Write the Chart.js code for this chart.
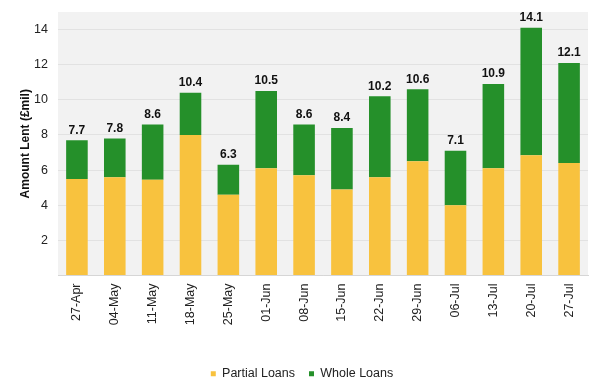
<!DOCTYPE html>
<html>
<head>
<meta charset="utf-8">
<script src="https://cdn.jsdelivr.net/npm/chart.js@4"></script>
<style>
html,body{margin:0;padding:0;background:#fff;}
#wrap{width:600px;height:387px;position:relative;}
</style>
</head>
<body>
<div id="wrap"><canvas id="c" width="600" height="387"></canvas></div>
<script>
const categories = ["27-Apr","04-May","11-May","18-May","25-May","01-Jun","08-Jun","15-Jun","22-Jun","29-Jun","06-Jul","13-Jul","20-Jul","27-Jul"];
const partialLoans = [5.5, 5.6, 5.45, 8.0, 4.6, 6.1, 5.7, 4.9, 5.6, 6.5, 4.0, 6.1, 6.85, 6.4];
const wholeLoans   = [2.2, 2.2, 3.15, 2.4, 1.7, 4.4, 2.9, 3.5, 4.6, 4.1, 3.1, 4.8, 7.25, 5.7];
const totalLabels  = ["7.7","7.8","8.6","10.4","6.3","10.5","8.6","8.4","10.2","10.6","7.1","10.9","14.1","12.1"];
const yTicks = [0, 2, 4, 6, 8, 10, 12, 14];

const FONT = '"Liberation Sans", Arial, sans-serif';

const plotBg = {
  id: 'plotBg',
  beforeDraw(chart) {
    const {ctx, chartArea: a} = chart;
    ctx.save();
    ctx.fillStyle = '#f2f2f2';
    ctx.fillRect(a.left, a.top, a.right - a.left, a.bottom - a.top);
    ctx.restore();
  }
};

const legendShift = {
  id: 'legendShift',
  afterLayout(chart) {
    const lg = chart.legend;
    if (lg) { lg.left += 8; lg.right += 8; }
  }
};

const totals = {
  id: 'totals',
  afterDatasetsDraw(chart) {
    const {ctx} = chart;
    const meta = chart.getDatasetMeta(1);
    ctx.save();
    ctx.font = 'bold 12px ' + FONT;
    ctx.fillStyle = '#111';
    ctx.textAlign = 'center';
    ctx.textBaseline = 'bottom';
    meta.data.forEach((bar, i) => {
      ctx.fillText(totalLabels[i], bar.x, bar.y - 4);
    });
    ctx.restore();
  }
};

new Chart(document.getElementById('c'), {
  type: 'bar',
  data: {
    labels: categories,
    datasets: [
      {label: 'Partial Loans', data: partialLoans, backgroundColor: '#f8c23e', borderWidth: 0},
      {label: 'Whole Loans', data: wholeLoans, backgroundColor: '#25902a', borderWidth: 0}
    ]
  },
  options: {
    responsive: false,
    animation: false,
    layout: {padding: {top: 12, right: 12, left: 0, bottom: -3}},
    datasets: {bar: {categoryPercentage: 0.6, barPercentage: 0.95}},
    plugins: {
      legend: {
        position: 'bottom',
        labels: {
          boxWidth: 5, boxHeight: 5, padding: 14,
          color: '#222',
          font: {family: FONT, size: 12.5}
        }
      },
      tooltip: {enabled: false}
    },
    scales: {
      x: {
        stacked: true,
        grid: {display: false, drawTicks: false},
        border: {display: true, color: '#d6d6d6'},
        ticks: {
          maxRotation: 90, minRotation: 90, padding: 8,
          color: '#222',
          font: {family: FONT, size: 12.5}
        },
        afterFit(s) { s.height = 78; }
      },
      y: {
        stacked: true,
        min: 0, max: 15,
        afterBuildTicks(s) { s.ticks = yTicks.map(v => ({value: v})); },
        grid: {color: '#e2e2e2', drawTicks: false, lineWidth: 1},
        border: {display: false},
        ticks: {
          padding: 10,
          color: '#222',
          font: {family: FONT, size: 12.5},
          callback: v => v === 0 ? '' : v
        },
        title: {
          display: true,
          text: 'Amount Lent (£mil)',
          color: '#111',
          padding: {top: 18, bottom: 0},
          font: {family: FONT, size: 12, weight: 'bold'}
        },
        afterFit(s) { s.width = 58; s.paddingTop = 0; }
      }
    }
  },
  plugins: [plotBg, legendShift, totals]
});
</script>
</body>
</html>
